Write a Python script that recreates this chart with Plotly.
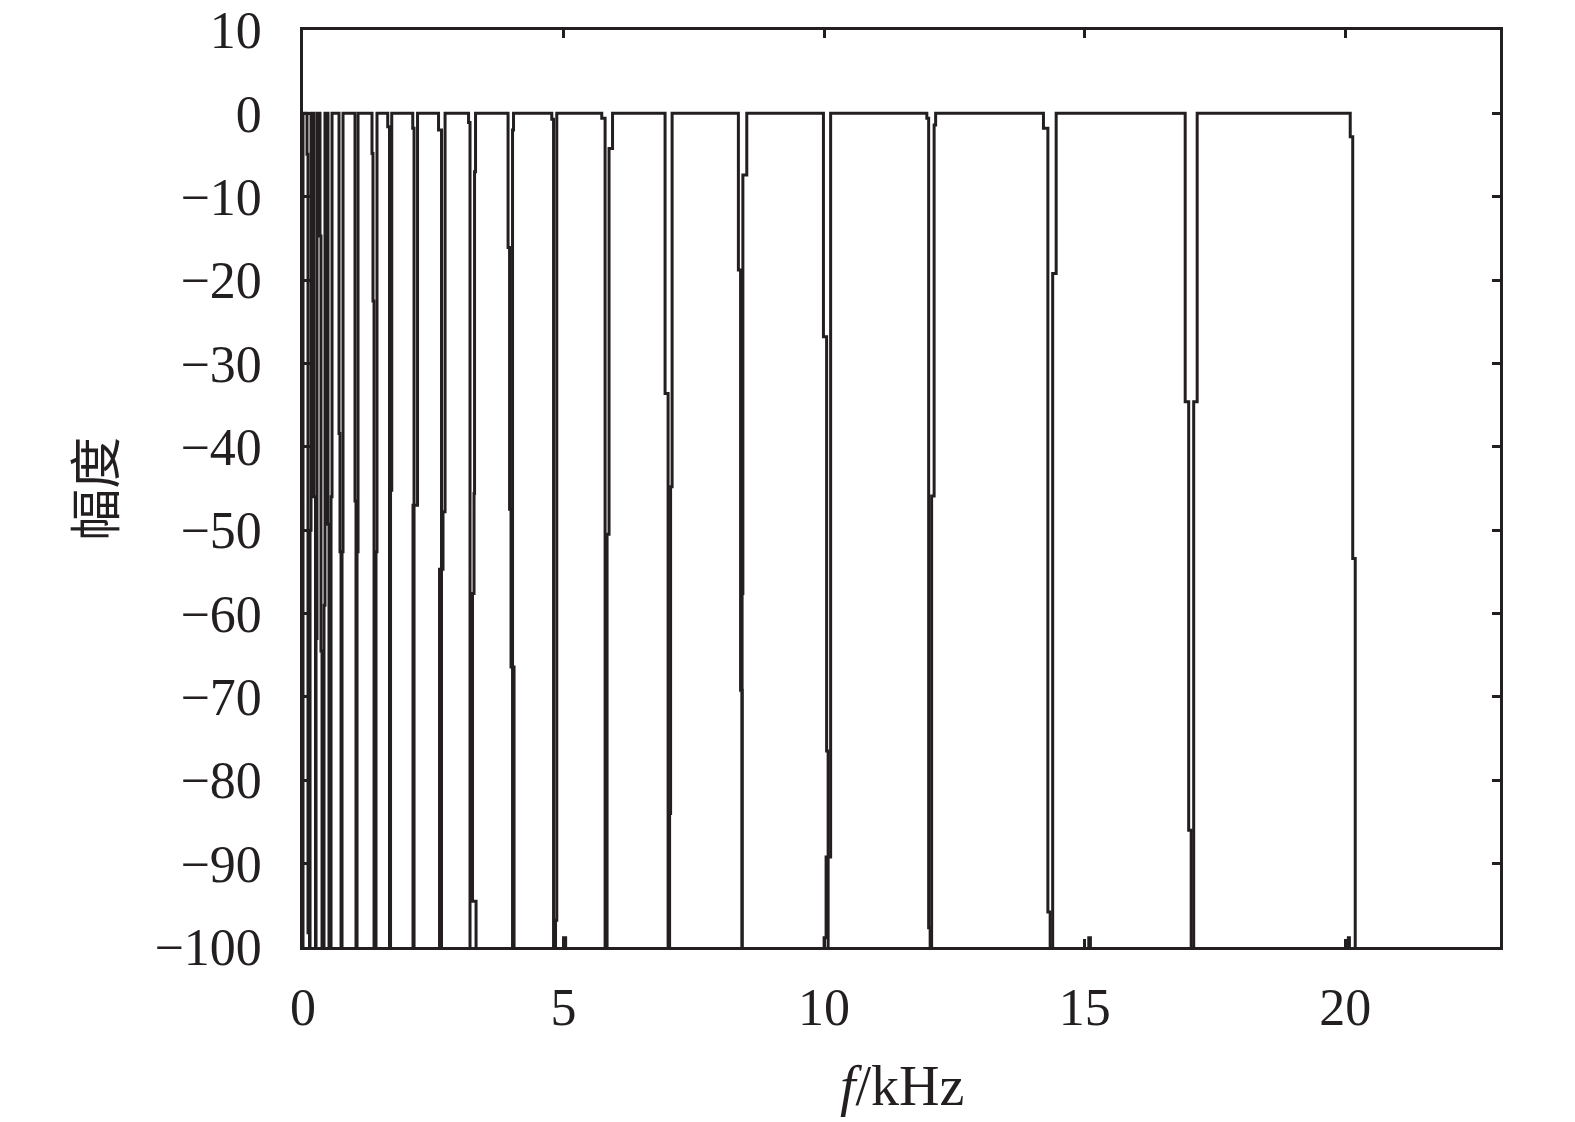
import plotly.graph_objects as go

# Frequency (kHz) / magnitude (dB) of each band filter, drawn as stairs.
# rise_*: points where the band's edge climbs from the stop band to 0 dB
# fall_*: points where the band's edge drops from 0 dB to the stop band
rise_x = [
    [0.0],
    [0.135, 0.154],
    [0.250, 0.269],
    [0.403, 0.422],
    [0.538, 0.557],
    [0.749, 0.768],
    [1.037, 1.056],
    [1.401, 1.420],
    [1.680, 1.703],
    [2.111, 2.198],
    [2.620, 2.687, 2.726],
    [3.321, 3.253, 3.282, 3.292, 3.311],
    [4.021, 4.040],
    [4.846, 4.870],
    [5.835, 5.873, 5.940],
    [7.035, 7.054, 7.083],
    [8.426, 8.441, 8.516],
    [10.000, 10.038, 10.125],
    [12.063, 12.111, 12.140],
    [14.386, 14.453],
    [17.092, 17.159],
]
rise_y = [
    [0],
    [-50.0, 0],
    [-63.0, 0],
    [-59.0, 0],
    [-46.0, 0],
    [-52.6, 0],
    [-52.6, 0],
    [-52.6, 0],
    [-45.2, 0],
    [-47.0, 0],
    [-54.7, -47.8, 0],
    [-94.5, -57.6, -45.6, -7.0, 0],
    [-2.0, 0],
    [-96.8, 0],
    [-50.5, -4.2, 0],
    [-84.0, -44.8, 0],
    [-57.6, -7.4, 0],
    [-98.9, -89.2, 0],
    [-45.9, -1.4, 0],
    [-19.2, 0],
    [-34.6, 0],
]
fall_x = [
    [0.077, 0.096, 0.125],
    [0.211, 0.240],
    [0.326, 0.345, 0.365],
    [0.480, 0.499],
    [0.691, 0.710, 0.730],
    [0.998, 1.017],
    [1.324, 1.343, 1.363],
    [1.626, 1.660],
    [2.106, 2.131],
    [2.601, 2.658],
    [3.177, 3.205],
    [3.935, 3.964, 3.992, 4.050],
    [4.774, 4.808],
    [5.733, 5.797],
    [6.948, 7.006],
    [8.355, 8.397, 8.426],
    [9.987, 10.048, 10.077],
    [11.971, 12.006, 12.035],
    [14.209, 14.294, 14.338],
    [16.929, 16.996, 17.044],
    [20.096, 20.144, 20.192],
]
fall_y = [
    [-4.9, -98.3, -200],
    [-46.0, -200],
    [-14.7, -64.5, -200],
    [-49.3, -200],
    [-38.4, -52.6, -200],
    [-46.5, -200],
    [-4.8, -22.5, -200],
    [-1.6, -200],
    [-1.8, -200],
    [-2.0, -200],
    [-1.1, -200],
    [-16.1, -47.5, -66.4, -200],
    [-0.7, -200],
    [-0.6, -200],
    [-33.6, -200],
    [-18.8, -69.2, -200],
    [-26.8, -76.5, -200],
    [-0.6, -97.7, -200],
    [-1.8, -95.8, -200],
    [-34.6, -86.0, -200],
    [-2.8, -53.4, -200],
]

# small side-lobe spikes rising from the stop band
spike_x0 = [5.000, 15.079, 20.060]
spike_x1 = [5.040, 15.110, 20.080]
spike_top = [-98.9, -98.9, -98.9]

x_ticks = [0, 5, 10, 15, 20]
y_ticks = [-100, -90, -80, -70, -60, -50, -40, -30, -20, -10, 0, 10]

LINE = "#231f20"
FONT = "Liberation Serif"

fig = go.Figure()
for rx, ry, fx, fy in zip(rise_x, rise_y, fall_x, fall_y):
    xs = [rx[0]] + rx + fx
    ys = [-200] + ry + fy
    fig.add_trace(go.Scatter(x=xs, y=ys, mode="lines", line_shape="hv",
                             line=dict(color=LINE, width=3),
                             showlegend=False, hoverinfo="skip"))
for a, b, t in zip(spike_x0, spike_x1, spike_top):
    fig.add_trace(go.Scatter(x=[a, a, b], y=[-200, t, -200], mode="lines",
                             line_shape="hv", line=dict(color=LINE, width=3),
                             showlegend=False, hoverinfo="skip"))

axis_common = dict(showgrid=False, zeroline=False, showline=True,
                   linecolor=LINE, linewidth=2.5, mirror="ticks",
                   ticks="inside", ticklen=8, tickwidth=2.5, tickcolor=LINE,
                   automargin=False, ticklabeloverflow="allow",
                   tickfont=dict(family=FONT, size=52, color=LINE))

fig.update_xaxes(range=[0, 22.97], tickvals=x_ticks, ticklabelstandoff=13,
                 **axis_common)
fig.update_yaxes(range=[-100, 10], tickvals=y_ticks, ticklabelstandoff=28,
                 **axis_common)

fig.add_annotation(text="<i>f</i>/kHz", xref="paper", yref="paper",
                   x=0.5, y=-0.152, yanchor="middle", xanchor="center",
                   showarrow=False,
                   font=dict(family=FONT, size=56, color=LINE))
fig.add_annotation(text="幅度", xref="paper", yref="paper",
                   x=-0.176, y=0.5, textangle=-90, xanchor="center",
                   yanchor="middle", showarrow=False,
                   font=dict(family="Noto Sans CJK SC", size=52, color=LINE))

fig.update_layout(width=1575, height=1122,
                  margin=dict(l=303, r=75, t=30, b=175),
                  plot_bgcolor="white", paper_bgcolor="white")

# remove the default 8 px page margin so the figure fills the window exactly
fig.write_html("out.html", config={"displayModeBar": False},
               post_script="document.body.style.margin='0';")
